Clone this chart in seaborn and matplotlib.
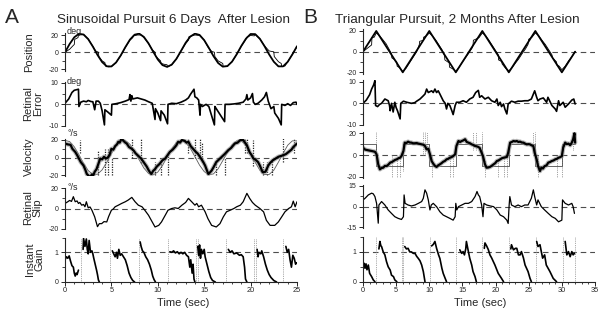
import numpy as np
import matplotlib
matplotlib.use("Agg")
import matplotlib.pyplot as plt
import seaborn as sns

sns.set_style("ticks")
plt.rcParams["font.family"] = ["Liberation Sans", "DejaVu Sans"]
plt.rcParams["axes.unicode_minus"] = False

# ---------------- panel A : sinusoidal pursuit ----------------
a_grid = np.arange(0, 25.01, 0.5)
a_pos_target = [0, 9.6, 17.4, 21.4, 20.6, 15.2, 6.6, -3.1, -11.4, -16.3, -16.5, -11.9, -3.8,
                5.9, 14.7, 20.4, 21.6, 17.8, 10.3, 0.7, -8.4, -14.9, -17.0, -14.4, -7.7, 1.5,
                11.0, 18.2, 21.6, 20.1, 14.0, 5.1, -4.5, -12.5, -16.7, -16.1, -10.9, -2.4, 7.3,
                15.8, 21.2, 21.0, 15.6, 7.0, -2.6, -11.0, -16.4, -16.4, -11.1, -2.5, 7.0]
a_vel_target = [19.5, 18.2, 12.3, 3.3, -6.5, -14.6, -19.1, -18.8, -13.8, -5.3, 4.6, 13.2, 18.6,
                19.3, 15.1, 7.1, -2.6, -11.8, -17.9, -19.5, -16.3, -9.0, 0.7, 10.0, 17.0, 19.6,
                17.3, 10.7, 1.2, -8.5, -15.8, -19.4, -18.4, -12.6, -3.4, 5.8, 14.3, 19.0, 19.0,
                14.1, 4.6, -5.4, -14.3, -19.0, -19.0, -14.2, -5.0, 4.8, 14.1, 19.0, 19.0]

a_pos_eye = [(0, 0), (0.5, 3.5), (0.9, 8), (1.0, 9), (1.05, 15), (1.4, 17), (1.45, 20), (2.0, 20.5),
             (2.5, 15.5), (3.0, 7), (3.3, 1.5), (3.6, 0), (3.65, -5), (4.0, -10), (4.3, -12),
             (4.35, -16), (4.7, -17), (5.0, -16.5), (5.5, -12), (6.0, -4), (6.5, 5.5), (7.0, 14),
             (7.3, 17), (7.35, 19), (7.8, 20), (8.2, 20), (8.5, 17), (9.0, 10), (9.4, 3), (9.7, 0),
             (9.75, -4), (10.0, -7), (10.3, -10), (10.35, -13), (10.7, -14), (11.0, -14.5),
             (11.05, -17), (11.5, -14.5), (12, -8), (12.5, 1.5), (13, 10), (13.3, 14), (13.35, 18),
             (14, 20), (14.5, 19.5), (15, 14), (15.4, 6), (15.8, 1), (16.1, 0), (16.15, -5),
             (16.5, -10), (17.0, -13), (17.05, -16.5), (17.5, -16), (18, -11), (18.5, -2.5),
             (19, 7), (19.5, 15), (19.6, 17.5), (20, 19.5), (20.4, 19), (20.45, 21), (21, 15.5),
             (21.5, 7.5), (22, 1.5), (22.5, 0.5), (22.55, -5), (23, -11), (23.3, -13),
             (23.35, -16.5), (23.7, -16), (24, -11), (24.5, -2.5), (25, 6.5)]

a_err = [(0, 0.5), (0.4, 2.5), (0.75, 5.5), (1.0, 6.5), (1.45, 7), (1.5, -1), (1.7, 1), (2.0, 1.5),
         (2.3, 1.2), (2.5, 1.8), (2.8, 1.3), (3.0, 1.2), (3.2, -2.5), (3.35, 1.5), (3.6, 1.5),
         (3.8, 0.5), (4.0, -3), (4.25, -9.5), (4.3, -2.5), (4.6, -3.5), (5.0, -5), (5.05, 0),
         (5.5, 0.3), (6.0, 0.8), (6.5, 1.5), (6.9, 2.2), (7.0, 4.5), (7.1, 1.5), (7.2, 4.0),
         (7.3, 2.5), (7.8, 3), (8.2, 2.5), (8.6, 2), (9.0, 1.2), (9.4, 0.5), (9.7, -7), (9.75, -2),
         (10.0, -4), (10.3, -7.5), (10.35, -3), (10.7, -5), (11.05, -9), (11.1, 0), (11.5, 0.5),
         (12, 0.3), (12.5, 1), (13.0, 2), (13.3, 3), (13.5, 4.5), (13.9, 7), (14.0, 3.5),
         (14.2, 3), (14.4, 2), (14.55, -5), (14.6, 0), (14.8, -1), (15.2, 0), (15.5, -1),
         (16.1, -9.5), (16.15, -1), (16.3, -2), (16.6, -4), (17.2, -8), (17.25, 0), (17.7, 0),
         (18.2, 0.2), (18.7, 0.5), (19.2, 1), (19.5, 2.5), (19.6, 4.5), (19.7, 2), (20.0, 3),
         (20.2, 5), (20.3, 1), (20.5, 0), (20.8, 0.5), (21.2, 2), (21.5, 3.5), (21.7, 5.5),
         (21.9, 1.5), (22.2, -2), (22.5, -1), (22.6, -4), (23.0, -6.5), (23.3, -9.5), (23.35, 0),
         (23.7, -0.5), (24.0, 0.3), (24.3, -0.5), (24.6, 0.8), (24.9, 1), (25, 0)]

a_vel_eye = [(0.0, 16), (0.3, 15), (0.6, 14.5), (0.8, 10), (1.1, 6.5), (1.3, 3), (1.45, 0),
             (1.7, -5), (2.0, -9), (2.2, -14), (2.35, -18.5), (2.5, -20), (2.7, -22), (2.9, -19),
             (3.05, -20), (3.2, -16), (3.4, -13), (3.6, -7), (3.8, -1), (4.0, -2), (4.2, 1),
             (4.4, -1), (4.6, 0), (4.8, 3), (5.0, 10), (5.2, 9), (5.4, 13), (5.6, 15), (5.75, 18),
             (5.9, 17), (6.1, 22), (6.3, 19), (6.5, 17), (6.65, 16), (6.9, 12), (7.2, 10),
             (7.4, 8), (7.6, 5), (7.8, 3), (8.0, 1), (8.2, -1), (8.4, -4), (8.6, -7), (8.8, -10),
             (9.0, -14), (9.15, -16.5), (9.3, -18.5), (9.5, -15), (9.7, -13), (9.9, -10),
             (10.2, -7), (10.5, -3), (10.8, -1), (11.0, 2), (11.3, 6.5), (11.6, 9), (11.85, 12),
             (12.0, 14), (12.2, 18), (12.4, 17), (12.6, 20), (12.9, 19), (13.1, 17), (13.3, 18),
             (13.55, 13), (13.8, 10), (14.05, 7), (14.3, 4.6), (14.6, 0), (14.9, -5), (15.1, -9),
             (15.3, -14.6), (15.45, -18.5), (15.6, -17), (15.8, -14.6), (16.0, -11), (16.3, -5),
             (16.6, -2), (16.9, 1), (17.2, 4), (17.6, 8.5), (17.9, 11), (18.3, 16), (18.6, 17),
             (18.9, 20), (19.2, 20), (19.4, 17), (19.6, 14), (19.9, 6), (20.1, 3), (20.3, -1),
             (20.5, -2), (20.8, -5), (21.0, -9), (21.3, -16.5), (21.6, -16), (21.9, -9),
             (22.1, -6), (22.4, -3), (22.7, -1), (23.0, 1), (23.3, 2), (23.5, 2.7), (23.8, 4),
             (24.1, 6.5), (24.4, 9), (24.6, 12), (24.8, 14), (25.0, 16)]

# saccade markers in the velocity trace: time, low, high
a_sacc = [(1.6, 5, 20), (3.6, -25, 8), (4.3, -25, 10), (4.6, -25, 10), (5.1, -25, 0),
          (7.2, 0, 25), (8.2, -6, 25), (9.7, -25, -5), (10.3, -25, -5), (11.05, -25, 5),
          (13.3, 5, 25), (14.0, 0, 25), (14.6, 0, 22), (14.8, -5, 18), (16.3, -25, -3),
          (17.2, -25, 0), (19.4, 5, 25), (19.6, 5, 25), (20.3, -10, 20), (21.3, -25, -5),
          (21.8, -25, -5), (22.3, -25, 0), (23.5, -5, 25), (24.7, 5, 25)]

a_slip = [(0, 5), (0.3, 6.7), (0.5, 8), (0.7, 7), (0.9, 11.7), (1.1, 6.7), (1.3, 7.5), (1.45, 5),
          (1.6, 6), (1.8, 3.3), (2.0, 4), (2.15, 1.7), (2.3, 6.7), (2.5, 0.7), (2.7, 1.5),
          (2.9, -1.7), (3.2, -8.3), (3.5, -18), (3.7, -15), (3.95, -15), (4.2, -13), (4.5, -13.3),
          (4.7, -8), (5.0, -1.7), (5.2, -0.5), (5.4, 1.7), (5.75, 3.3), (6.1, 5), (6.5, 6.7),
          (6.8, 8.3), (7.2, 11), (7.55, 6.7), (7.9, 3.3), (8.3, 1.7), (8.6, -1.7), (9.0, -6.7),
          (9.3, -11.7), (9.7, -18.3), (10.1, -16.7), (10.4, -13.3), (10.8, -6.7), (11.1, -1.7),
          (11.5, 0), (11.85, 0.7), (12.2, 0), (12.6, 3.3), (13.0, 6), (13.3, 10), (13.65, 6.7),
          (14.0, 3.3), (14.2, 5), (14.4, 1.7), (14.7, 3.3), (15.1, -3.3), (15.4, -10),
          (15.8, -16.7), (16.3, -18.3), (16.7, -15), (17.06, -8.3), (17.4, -3.3), (17.8, -1.7),
          (18.2, 0), (18.5, 1.7), (18.9, 3.3), (19.2, 6.7), (19.6, 15), (19.9, 10), (20.2, 6),
          (20.5, 3.3), (21.0, 0), (21.4, -3.3), (21.7, -11.7), (22.1, -16.7), (22.6, -16.7),
          (22.99, -13.3), (23.35, -8.3), (23.7, -3.3), (24.1, 0), (24.4, 1.7), (24.6, 7.3),
          (24.8, 1.7), (25.0, 6.7)]

a_gain = [
    [(0, 0.75), (0.15, 0.85), (0.3, 0.8), (0.45, 0.88), (0.6, 0.7), (0.75, 0.55), (0.9, 0.5),
     (1.0, 0.3), (1.1, 0.2), (1.2, 0.3), (1.3, 0.25), (1.45, 0.4)],
    [(1.95, 1.1), (2.0, 1.47), (2.15, 1.2), (2.3, 1.45), (2.4, 1.1), (2.5, 0.95), (2.6, 1.4),
     (2.75, 1.0), (2.9, 1.05), (3.0, 0.95), (3.1, 0.8), (3.25, 0.6), (3.4, 0.4), (3.5, 0.25),
     (3.6, 0.07), (3.7, 0.0)],
    [(5.1, 1.05), (5.25, 0.95), (5.4, 0.85), (5.55, 1.0), (5.65, 0.8), (5.8, 1.1), (5.95, 0.9),
     (6.1, 0.95), (6.3, 0.85), (6.5, 0.75), (6.7, 0.55), (6.9, 0.3), (7.1, 0.15), (7.3, 0.05),
     (7.5, 0.0)],
    [(8.1, 1.35), (8.2, 1.2), (8.35, 1.05), (8.5, 1.0), (8.7, 0.85), (8.9, 0.75), (9.1, 0.6),
     (9.3, 0.4), (9.45, 0.2), (9.6, 0.08), (9.75, 0.0)],
    [(11.3, 1.02), (11.5, 1.0), (11.7, 1.05), (11.9, 0.98), (12.1, 1.02), (12.3, 0.95),
     (12.5, 1.0), (12.7, 0.95), (12.9, 1.0), (13.1, 0.9), (13.3, 0.85), (13.45, 0.5),
     (13.55, 0.75), (13.7, 0.3), (13.8, 0.6), (13.9, 0.1), (14.0, 0.0)],
    [(14.3, 1.2), (14.4, 0.9), (14.5, 1.25), (14.6, 0.8), (14.7, 1.1), (14.85, 0.95),
     (15.0, 1.1), (15.1, 0.85), (15.3, 0.6), (15.5, 0.35), (15.7, 0.15), (15.9, 0.05),
     (16.2, 0.0)],
    [(17.6, 1.1), (17.8, 1.0), (18.0, 1.05), (18.2, 0.95), (18.5, 0.98), (18.8, 0.9),
     (19.0, 0.92), (19.2, 0.85), (19.35, 0.5), (19.45, 0.1), (19.6, 0.0)],
    [(20.7, 1.1), (20.8, 0.85), (20.9, 1.0), (21.1, 0.95), (21.2, 1.05), (21.4, 0.85),
     (21.6, 0.6), (21.8, 0.4), (22.0, 0.25), (22.2, 0.15), (22.5, 0.05), (22.8, 0.0)],
    [(23.8, 1.2), (23.95, 1.0), (24.1, 1.1), (24.25, 0.75), (24.4, 0.5), (24.55, 0.9),
     (24.7, 0.8), (24.85, 0.6), (24.95, 0.65)],
]
a_gain_marks = [1.7, 4.85, 8.0, 11.1, 14.1, 14.35, 17.4, 20.4, 20.55, 23.5]

# ---------------- panel B : triangular pursuit ----------------
b_pos_target = [(0, 0), (2, 20), (6, -20), (10, 20), (14, -20), (18, 20), (22, -20), (26, 20),
                (30, -20), (32, 0)]
b_vel_target = [(0, 10), (2, 10), (2, -10), (6, -10), (6, 10), (10, 10), (10, -10), (14, -10),
                (14, 10), (18, 10), (18, -10), (22, -10), (22, 10), (26, 10), (26, -10),
                (30, -10), (30, 10), (32, 10)]

b_pos_eye = [(0, 0), (1.3, 6.5), (1.35, 13.5), (1.7, 14), (2.0, 18), (2.4, 16), (3, 11.5),
             (3.5, 7.5), (4.3, -2), (4.35, -6), (4.8, -8), (5.1, -10), (5.15, -14), (5.5, -15.5),
             (6.0, -19), (6.5, -16), (7, -11), (7.5, -6), (8.1, 0), (8.5, 7), (8.55, 10),
             (9.1, 11), (9.15, 14), (9.6, 15.5), (10, 18), (10.5, 15), (11, 11), (11.5, 6),
             (12, 1), (12.3, -4), (12.35, -8), (12.8, -10), (13.0, -10.5), (13.05, -15),
             (13.5, -16.5), (14, -19), (14.5, -15), (15, -10), (15.5, -5.5), (16, -1), (16.5, 4),
             (16.6, 6), (16.65, 11), (17.5, 13.5), (18, 18), (18.5, 15.5), (19, 11), (19.5, 6),
             (20, 1), (20.4, -3), (20.45, -8), (20.9, -9.5), (21.0, -12), (21.5, -16),
             (22, -18.5), (22.5, -15.5), (23, -11), (23.5, -7), (24, -2), (24.5, 2.5), (24.9, 7),
             (25.0, 12), (25.5, 14), (26, 18), (26.5, 15.5), (27, 11), (27.5, 7), (28, 2),
             (28.5, -3), (28.6, -6), (29.2, -10), (29.25, -13), (29.6, -14), (30, -17.5),
             (30.5, -14), (31, -9), (31.5, -5), (32, 0)]

b_err = [(0, 0), (0.5, 1.5), (1.0, 4), (1.3, 6.6), (1.6, 8.5), (1.8, 10.5), (1.9, -1),
         (2.2, -1.5), (2.5, -0.5), (2.8, 0), (3.3, 2), (3.8, 1.2), (4.0, -1), (4.1, -3.4),
         (4.3, 0), (4.55, -4), (4.8, 0.5), (5.0, -2), (5.2, -3.4), (5.6, -7.2), (5.7, 0),
         (6.1, 1), (6.6, 0.5), (7.3, 0), (7.8, 0.3), (8.1, 1), (8.6, 2), (9.1, 3.5), (9.35, 4.3),
         (9.6, 6.6), (9.85, 5), (10.35, 5.8), (10.6, 5), (10.85, 6.6), (11.1, 5), (11.35, 5.8),
         (11.6, 4.3), (12.1, 1.2), (12.4, 0), (12.6, -2.6), (12.8, 0), (13.1, -1), (13.4, -3.4),
         (13.6, -5.2), (13.9, -1), (14.1, 0.5), (14.6, 0.5), (15.1, 1.2), (15.6, 0.5),
         (16.1, 2), (16.6, 2.8), (17.0, 5), (17.4, 6), (17.6, 2.8), (17.9, 3.5), (18.4, 2),
         (18.9, 2.8), (19.4, 1.2), (19.9, 0.5), (20.2, 2), (20.4, -1), (20.7, 0.5), (20.9, -1.5),
         (21.2, -0.3), (21.4, -2.6), (21.7, -4.9), (21.9, -0.3), (22.4, 1), (22.9, 0.5),
         (23.4, 1), (23.9, 1), (24.4, 1.2), (24.9, 1.2), (25.4, 2), (25.9, 5.8), (26.2, 2.8),
         (26.4, 1.2), (26.7, 2), (27.2, 2.5), (27.7, 0.5), (27.9, 2.8), (28.5, -1), (29.0, -2.6),
         (29.2, -3.7), (29.5, 1.2), (29.7, -1), (30.2, 0.5), (30.5, -1.8), (31.0, -0.3),
         (31.5, 1.5), (31.8, 2), (32.0, -0.3)]

b_vel_eye = [(0, 6.8), (0.3, 5), (0.8, 4.3), (1.3, 3.7), (1.8, 3), (2.05, 0.6), (2.3, -8.6),
             (2.55, -13.2), (2.8, -12), (3.05, -11.7), (3.3, -10), (3.55, -10.2), (3.8, -9),
             (4.1, -7), (4.35, -6.5), (4.6, -5.5), (4.85, -4.5), (5.1, -4), (5.35, -3),
             (5.6, -2.5), (5.8, -1), (6.1, 3.7), (6.3, 11.4), (6.55, 11), (6.8, 12.3), (7.05, 11.5),
             (7.3, 11.4), (7.55, 10.8), (7.8, 10.8), (8.1, 11), (8.35, 10.5), (8.6, 10.2),
             (8.85, 9.8), (9.1, 9.5), (9.35, 8.3), (9.6, 5.2), (9.85, 5.8), (10.1, 0.6),
             (10.35, -5.5), (10.6, -8), (10.86, -10), (11.1, -11), (11.35, -9.5), (11.6, -8.6),
             (11.85, -7.5), (12.1, -6.2), (12.35, -5.5), (12.6, -4), (12.85, -3.5), (13.1, -2.5),
             (13.35, -2), (13.6, -1), (13.9, 0.6), (14.1, 8.3), (14.4, 12.9), (14.65, 12),
             (14.9, 12.9), (15.15, 13.5), (15.4, 14.5), (15.65, 12), (15.9, 11.4), (16.15, 10.8),
             (16.4, 9.8), (16.65, 9.2), (16.9, 8.3), (17.15, 8), (17.4, 7.4), (17.6, 6.5),
             (17.9, 2), (18.1, -1), (18.4, -8.6), (18.65, -11.7), (18.9, -11.5), (19.15, -11),
             (19.4, -10), (19.7, -8.6), (19.95, -7.5), (20.2, -5.5), (20.45, -5), (20.7, -4),
             (20.95, -3), (21.2, -2.5), (21.45, -2.2), (21.7, -1.8), (21.9, 2), (22.2, 11.4),
             (22.45, 12), (22.7, 12.9), (22.95, 12.5), (23.2, 12.9), (23.45, 12), (23.7, 12.3),
             (23.95, 11.5), (24.2, 11.4), (24.45, 10.5), (24.7, 9.8), (24.95, 10), (25.2, 9.8),
             (25.45, 8.8), (25.7, 8.3), (25.9, 2), (26.2, -4), (26.4, -10), (26.7, -14.8),
             (26.9, -11.7), (27.15, -12.5), (27.4, -10.2), (27.7, -9.5), (27.95, -7), (28.2, -6.5),
             (28.5, -5.5), (28.75, -5), (29.0, -4), (29.25, -3.5), (29.5, -2.5), (29.75, -2),
             (30.0, -1), (30.2, 6.8), (30.5, 11.4), (30.75, 10), (31.0, 10.5), (31.25, 9),
             (31.5, 11.4), (31.7, 14.5), (31.9, 20), (32.0, 11.4)]

b_sacc = [(1.9, 0, 21), (4.3, -21, 0), (5.1, -21, -3), (5.6, -21, 0), (6.1, -15, 10), (9.1, 0, 21),
          (9.35, 0, 21), (9.6, 5, 21), (10.35, -21, 0), (13.1, -21, 0), (13.6, -21, -2),
          (16.6, 5, 21), (17.0, 5, 21), (17.9, -5, 21), (18.4, -21, -5), (20.4, -21, -3),
          (21.2, -21, 0), (21.7, -21, 0), (25.7, 5, 21), (25.9, -5, 21), (26.4, -21, 0),
          (29.2, -21, 0), (30.0, -21, 5), (31.7, 5, 21)]

b_slip = [(0, 4.9), (0.3, 6), (0.8, 8.5), (1.3, 9.8), (1.55, 9.3), (1.8, 7.3), (2.05, 2.4),
          (2.3, -12), (2.4, 1.2), (2.8, 3.7), (3.3, 1.2), (3.8, -2.4), (4.3, -4.9), (4.8, -7.3),
          (5.3, -8.5), (5.8, -9.3), (6.1, -7.3), (6.2, 8.5), (6.35, 2.4), (6.8, 1.2), (7.3, 0.5),
          (7.85, 1.2), (8.35, 2.4), (8.85, 3.7), (9.1, 6.1), (9.35, 12.2), (9.6, 9.8),
          (9.85, 4.9), (10.1, -2.4), (10.3, 1.2), (10.6, 2.4), (11.1, 0), (11.6, -3.7),
          (12.1, -6.1), (12.6, -7.3), (13.1, -8.5), (13.6, -9.8), (13.9, -7.3), (14.0, 2.4),
          (14.15, -2.4), (14.4, 0), (14.9, 1.2), (15.4, 2.4), (15.9, 2.4), (16.4, 3.7),
          (16.9, 7.3), (17.2, 11), (17.4, 8.5), (17.6, 7.3), (17.9, 1.2), (18.1, -7.3),
          (18.25, 2.4), (18.65, 1.2), (19.2, 0.5), (19.7, 0), (20.2, -2.4), (20.7, -6.1),
          (21.2, -7.3), (21.7, -9.8), (21.9, -12.2), (22.05, 1.2), (22.15, 7.3), (22.4, 1.2),
          (22.9, 0), (23.4, 1.2), (23.9, 0), (24.4, 1.2), (24.9, 1.2), (25.4, 6.1), (25.7, 12.2),
          (25.9, 7.3), (26.2, 1.2), (26.4, 4.9), (26.9, 0), (27.4, -2.4), (27.95, -4.9),
          (28.5, -7.3), (29.0, -8.5), (29.5, -11), (30.0, -9.8), (30.1, 4.9), (30.5, 2.4),
          (31.0, 1.2), (31.5, 2.4), (31.7, 0), (31.9, -4.9)]

b_gain = [
    [(0, 0.56), (0.15, 0.62), (0.3, 0.45), (0.45, 0.6), (0.6, 0.4), (0.8, 0.56), (1.0, 0.28),
     (1.3, 0.17), (1.55, 0.06), (1.8, 0.0)],
    [(2.4, 1.1), (2.55, 1.35), (2.7, 1.2), (2.8, 1.18), (3.05, 1.0), (3.3, 0.9), (3.55, 0.67),
     (3.8, 0.5), (4.1, 0.39), (4.3, 0.22), (4.6, 0.17), (4.8, 0.06), (5.1, 0.0)],
    [(6.3, 1.18), (6.55, 1.1), (6.8, 1.12), (7.05, 1.0), (7.3, 1.0), (7.6, 0.95), (7.85, 0.95),
     (8.1, 0.85), (8.35, 0.78), (8.6, 0.7), (8.85, 0.56), (9.1, 0.34), (9.35, 0.0)],
    [(10.35, 1.2), (10.6, 1.25), (10.85, 1.35), (11.1, 1.12), (11.4, 0.9), (11.6, 0.78),
     (11.9, 0.45), (12.1, 0.28), (12.4, 0.11), (12.6, 0.0)],
    [(14.6, 1.07), (14.9, 0.95), (15.1, 1.01), (15.3, 0.9), (15.5, 1.1), (15.6, 1.35),
     (15.9, 1.01), (16.1, 0.79), (16.4, 0.56), (16.6, 0.34), (16.9, 0.17), (17.1, 0.0)],
    [(18.3, 1.12), (18.4, 1.3), (18.65, 1.2), (18.9, 1.08), (19.15, 0.9), (19.4, 0.8),
     (19.9, 0.56), (20.4, 0.28), (20.9, 0.11), (21.2, 0.0)],
    [(22.3, 1.1), (22.4, 1.24), (22.7, 1.07), (23.0, 1.12), (23.2, 1.12), (23.45, 0.9),
     (23.7, 0.9), (23.9, 1.01), (24.2, 0.8), (24.45, 0.56), (24.9, 0.34), (25.2, 0.11),
     (25.4, 0.0)],
    [(26.2, 1.35), (26.4, 1.18), (26.7, 1.24), (26.9, 1.01), (27.1, 0.79), (27.4, 0.9),
     (27.65, 0.56), (28.2, 0.34), (28.7, 0.11), (29.2, 0.0)],
    [(30.5, 1.35), (30.75, 0.9), (31.0, 1.01), (31.25, 0.84), (31.5, 1.01), (31.7, 0.9),
     (31.9, 0.95)],
]
b_gain_marks = [1.96, 5.9, 6.1, 10.1, 14.1, 18.0, 22.1, 26.1, 30.2, 32.0]

row_names = ["Position", "Retinal\nError", "Velocity", "Retinal\nSlip", "Instant\nGain"]

# ---------------- figure ----------------
W, H = 607, 312
fig = plt.figure(figsize=(W / 100, H / 100), dpi=100)


def px_axes(x0, x1, top, bottom):
    return fig.add_axes([x0 / W, 1 - bottom / H, (x1 - x0) / W, (bottom - top) / H])


def ftext(x, y, s, **kw):
    fig.text(x / W, 1 - y / H, s, **kw)


def trace(ax, pts, lw=1.0, color="black", alpha=1.0):
    t = [p[0] for p in pts]
    v = [p[1] for p in pts]
    sns.lineplot(x=t, y=v, ax=ax, sort=False, estimator=None, color=color,
                 linewidth=lw, alpha=alpha, legend=False)


def style(ax, xmax, ylim, major, minor, labels, bottom_row):
    ax.set_xlim(0, xmax)
    ax.set_ylim(*ylim)
    for s in ["top", "right"]:
        ax.spines[s].set_visible(False)
    ax.spines["left"].set_linewidth(0.8)
    ax.set_yticks(major)
    ax.set_yticklabels(labels)
    ax.set_yticks(minor, minor=True)
    ax.tick_params(axis="y", which="major", length=3.2, width=0.7, pad=1.5, labelsize=5)
    ax.tick_params(axis="y", which="minor", length=2, width=0.6)
    ax.set_xlabel("")
    ax.set_ylabel("")
    if bottom_row:
        ax.spines["bottom"].set_linewidth(0.8)
        ax.set_xticks(np.arange(0, xmax + 0.1, 5))
        ax.set_xticks(np.arange(0, xmax + 0.1, 1), minor=True)
        ax.tick_params(axis="x", which="major", length=2.6, width=0.7, pad=1.0, labelsize=5.3)
        ax.tick_params(axis="x", which="minor", length=1.6, width=0.6)
    else:
        ax.spines["bottom"].set_visible(False)
        ax.tick_params(axis="x", which="both", bottom=False, labelbottom=False)
    ax.patch.set_alpha(0)


def zero_line(ax, y=0):
    ax.axhline(y, ls=(0, (5, 3.5)), color="0.3", lw=0.8, zorder=0)


# axes rectangles in pixels: (top, bottom)
A_x = (65, 297)
A_rows = [(33.3, 71.2), (82.3, 126.4), (139.1, 176.2), (187.8, 229.2), (237.5, 282)]
B_x = (363, 595)
B_rows = [(28.9, 74.4), (80.2, 125.4), (132.2, 177.8), (185.3, 228), (237, 281.7)]

axA = [px_axes(A_x[0], A_x[1], t, b) for t, b in A_rows]
axB = [px_axes(B_x[0], B_x[1], t, b) for t, b in B_rows]

# --- A position
ax = axA[0]
zero_line(ax)
sns.lineplot(x=a_grid, y=a_pos_target, ax=ax, color="black", linewidth=1.3, legend=False)
trace(ax, a_pos_eye, lw=0.6)
style(ax, 25, (-22, 22), [-20, 0, 20], [-10, 10], ["-20", "0", "20"], False)

# --- A retinal error
ax = axA[1]
zero_line(ax)
trace(ax, a_err, lw=1.2)
style(ax, 25, (-10.2, 10.2), [-10, 0, 10], [-5, 5], ["-10", "0", "10"], False)

# --- A velocity
ax = axA[2]
zero_line(ax)
ax.vlines([s[0] for s in a_sacc], [s[1] for s in a_sacc], [s[2] for s in a_sacc],
          colors="0.15", linestyles=(0, (1, 1)), lw=0.9)
sns.lineplot(x=a_grid, y=a_vel_target, ax=ax, color="0.35", linewidth=0.6, legend=False)
trace(ax, a_vel_eye, lw=3.2, color="0.55", alpha=0.6)
trace(ax, a_vel_eye, lw=1.6)
style(ax, 25, (-21, 21), [-20, 0, 20], [-10, 10], ["-20", "0", "20"], False)

# --- A retinal slip
ax = axA[3]
zero_line(ax)
trace(ax, a_slip, lw=0.9)
style(ax, 25, (-20.5, 20.5), [-20, 0, 20], [-10, 10], ["-20", "0", "20"], False)

# --- A gain
ax = axA[4]
zero_line(ax, 1)
ax.vlines(a_gain_marks, 0, 1.5, colors="0.55", linestyles=(0, (1, 1.2)), lw=0.6)
for seg in a_gain:
    trace(ax, seg, lw=1.2)
style(ax, 25, (0, 1.5), [0, 1], [0.5, 1.5], ["0", "1"], True)

# --- B position
ax = axB[0]
zero_line(ax)
trace(ax, b_pos_target, lw=1.3)
trace(ax, b_pos_eye, lw=0.6)
style(ax, 35, (-22, 22), [-20, 0, 20], [-10, 10], ["-20", "0", "20"], False)

# --- B retinal error
ax = axB[1]
zero_line(ax)
trace(ax, b_err, lw=1.2)
style(ax, 35, (-10.2, 10.7), [-10, 0, 10], [-5, 5], ["-10", "0", "10"], False)

# --- B velocity
ax = axB[2]
zero_line(ax)
ax.vlines([s[0] for s in b_sacc], [s[1] for s in b_sacc], [s[2] for s in b_sacc],
          colors="0.5", linestyles=(0, (1, 1.2)), lw=0.6)
trace(ax, b_vel_target, lw=0.6, color="0.3")
trace(ax, b_vel_eye, lw=3.2, color="0.55", alpha=0.6)
trace(ax, b_vel_eye, lw=1.6)
style(ax, 35, (-21, 21), [-20, 0, 20], [-10, 10], ["-20", "0", "20"], False)

# --- B retinal slip
ax = axB[3]
zero_line(ax)
trace(ax, b_slip, lw=0.9)
style(ax, 35, (-15.5, 15.5), [-15, 0, 15], [-7.5, 7.5], ["-15", "0", "15"], False)

# --- B gain
ax = axB[4]
zero_line(ax, 1)
ax.vlines(b_gain_marks, 0, 1.5, colors="0.55", linestyles=(0, (1, 1.2)), lw=0.6)
for seg in b_gain:
    trace(ax, seg, lw=1.2)
style(ax, 35, (0, 1.5), [0, 1], [0.5, 1.5], ["0", "1"], True)

# ---------------- texts ----------------
ftext(5, 23, "A", fontsize=15, va="baseline")
ftext(57, 23, "Sinusoidal Pursuit 6 Days  After Lesion", fontsize=9.7, va="baseline")
ftext(303, 23, "B", fontsize=15, va="baseline")
ftext(335, 23, "Triangular Pursuit, 2 Months After Lesion", fontsize=9.7, va="baseline")

label_pos = [(29, 52), (33, 104), (29, 157), (33, 208), (35, 259)]
for (x, y), name in zip(label_pos, row_names):
    ftext(x, y, name, fontsize=8, rotation=90, ha="center", va="center", linespacing=0.95)

for x, y, u in [(67, 31, "deg"), (67, 82, "deg"), (67, 133, "°/s"), (67, 188, "°/s")]:
    ftext(x, y, u, fontsize=6.5, va="center")

ftext(183, 303, "Time (sec)", fontsize=8, ha="center", va="center")
ftext(480, 303, "Time (sec)", fontsize=8, ha="center", va="center")

fig.savefig("out.png", dpi=100)
